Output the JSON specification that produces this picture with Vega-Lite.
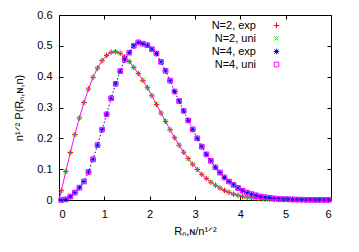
{
  "$schema": "https://vega.github.io/schema/vega-lite/v6.json",
  "width": 272,
  "height": 185,
  "autosize": "none",
  "padding": {"left": 59, "top": 15, "right": 28, "bottom": 52},
  "config": {
    "font": "Liberation Sans",
    "view": {"stroke": "#000000", "strokeWidth": 1},
    "axis": {
      "grid": false,
      "domain": false,
      "tickColor": "#000000",
      "tickSize": -4,
      "labelFontSize": 11,
      "labelColor": "#000000",
      "titleFontSize": 11,
      "titleFontWeight": "normal",
      "titleColor": "#000000"
    }
  },
  "datasets": {
    "sim": [
      {"x": 0.05, "e2": 0.03, "u2": 0.03, "e4": 0.0, "u4": 0.0},
      {"x": 0.15, "e2": 0.092, "u2": 0.092, "e4": 0.002, "u4": 0.002},
      {"x": 0.25, "e2": 0.154, "u2": 0.154, "e4": 0.011, "u4": 0.011},
      {"x": 0.35, "e2": 0.212, "u2": 0.212, "e4": 0.024, "u4": 0.024},
      {"x": 0.45, "e2": 0.266, "u2": 0.266, "e4": 0.04, "u4": 0.04},
      {"x": 0.55, "e2": 0.316, "u2": 0.316, "e4": 0.06, "u4": 0.06},
      {"x": 0.65, "e2": 0.36, "u2": 0.36, "e4": 0.091, "u4": 0.091},
      {"x": 0.75, "e2": 0.398, "u2": 0.398, "e4": 0.132, "u4": 0.132},
      {"x": 0.85, "e2": 0.428, "u2": 0.428, "e4": 0.178, "u4": 0.178},
      {"x": 0.95, "e2": 0.452, "u2": 0.452, "e4": 0.228, "u4": 0.228},
      {"x": 1.05, "e2": 0.469, "u2": 0.469, "e4": 0.278, "u4": 0.278},
      {"x": 1.15, "e2": 0.479, "u2": 0.479, "e4": 0.33, "u4": 0.33},
      {"x": 1.25, "e2": 0.481, "u2": 0.481, "e4": 0.377, "u4": 0.377},
      {"x": 1.35, "e2": 0.476, "u2": 0.476, "e4": 0.418, "u4": 0.418},
      {"x": 1.45, "e2": 0.465, "u2": 0.465, "e4": 0.455, "u4": 0.455},
      {"x": 1.55, "e2": 0.449, "u2": 0.449, "e4": 0.478, "u4": 0.478},
      {"x": 1.65, "e2": 0.43, "u2": 0.43, "e4": 0.5, "u4": 0.5},
      {"x": 1.75, "e2": 0.41, "u2": 0.41, "e4": 0.511, "u4": 0.511},
      {"x": 1.85, "e2": 0.388, "u2": 0.388, "e4": 0.507, "u4": 0.507},
      {"x": 1.95, "e2": 0.364, "u2": 0.364, "e4": 0.502, "u4": 0.502},
      {"x": 2.05, "e2": 0.338, "u2": 0.338, "e4": 0.489, "u4": 0.489},
      {"x": 2.15, "e2": 0.31, "u2": 0.31, "e4": 0.475, "u4": 0.475},
      {"x": 2.25, "e2": 0.282, "u2": 0.282, "e4": 0.448, "u4": 0.448},
      {"x": 2.35, "e2": 0.255, "u2": 0.255, "e4": 0.419, "u4": 0.419},
      {"x": 2.45, "e2": 0.228, "u2": 0.228, "e4": 0.387, "u4": 0.387},
      {"x": 2.55, "e2": 0.202, "u2": 0.202, "e4": 0.352, "u4": 0.352},
      {"x": 2.65, "e2": 0.178, "u2": 0.178, "e4": 0.321, "u4": 0.321},
      {"x": 2.75, "e2": 0.155, "u2": 0.155, "e4": 0.289, "u4": 0.289},
      {"x": 2.85, "e2": 0.134, "u2": 0.134, "e4": 0.258, "u4": 0.258},
      {"x": 2.95, "e2": 0.116, "u2": 0.116, "e4": 0.229, "u4": 0.229},
      {"x": 3.05, "e2": 0.099, "u2": 0.099, "e4": 0.2, "u4": 0.2},
      {"x": 3.15, "e2": 0.083, "u2": 0.083, "e4": 0.173, "u4": 0.173},
      {"x": 3.25, "e2": 0.07, "u2": 0.07, "e4": 0.148, "u4": 0.148},
      {"x": 3.35, "e2": 0.058, "u2": 0.058, "e4": 0.127, "u4": 0.127},
      {"x": 3.45, "e2": 0.048, "u2": 0.048, "e4": 0.106, "u4": 0.106},
      {"x": 3.55, "e2": 0.039, "u2": 0.039, "e4": 0.089, "u4": 0.089},
      {"x": 3.65, "e2": 0.031, "u2": 0.031, "e4": 0.073, "u4": 0.073},
      {"x": 3.75, "e2": 0.025, "u2": 0.025, "e4": 0.06, "u4": 0.06},
      {"x": 3.85, "e2": 0.019, "u2": 0.019, "e4": 0.049, "u4": 0.049},
      {"x": 3.95, "e2": 0.015, "u2": 0.015, "e4": 0.039, "u4": 0.039},
      {"x": 4.05, "e2": 0.011, "u2": 0.011, "e4": 0.03, "u4": 0.03},
      {"x": 4.15, "e2": 0.009, "u2": 0.009, "e4": 0.024, "u4": 0.024},
      {"x": 4.25, "e2": 0.007, "u2": 0.007, "e4": 0.019, "u4": 0.019},
      {"x": 4.35, "e2": 0.005, "u2": 0.005, "e4": 0.015, "u4": 0.015},
      {"x": 4.45, "e2": 0.004, "u2": 0.004, "e4": 0.011, "u4": 0.011},
      {"x": 4.55, "e2": 0.003, "u2": 0.003, "e4": 0.009, "u4": 0.009},
      {"x": 4.65, "e2": 0.002, "u2": 0.002, "e4": 0.007, "u4": 0.007},
      {"x": 4.75, "e2": 0.0015, "u2": 0.0015, "e4": 0.005, "u4": 0.005},
      {"x": 4.85, "e2": 0.001, "u2": 0.001, "e4": 0.004, "u4": 0.004},
      {"x": 4.95, "e2": 0.0008, "u2": 0.0008, "e4": 0.003, "u4": 0.003},
      {"x": 5.05, "e2": 0.0006, "u2": 0.0006, "e4": 0.0025, "u4": 0.0025},
      {"x": 5.15, "e2": 0.0005, "u2": 0.0005, "e4": 0.002, "u4": 0.002},
      {"x": 5.25, "e2": 0.0004, "u2": 0.0004, "e4": 0.0015, "u4": 0.0015},
      {"x": 5.35, "e2": 0.0003, "u2": 0.0003, "e4": 0.001, "u4": 0.001},
      {"x": 5.45, "e2": 0.0002, "u2": 0.0002, "e4": 0.0008, "u4": 0.0008},
      {"x": 5.55, "e2": 0.0002, "u2": 0.0002, "e4": 0.0006, "u4": 0.0006},
      {"x": 5.65, "e2": 0.0001, "u2": 0.0001, "e4": 0.0005, "u4": 0.0005},
      {"x": 5.75, "e2": 0.0001, "u2": 0.0001, "e4": 0.0004, "u4": 0.0004},
      {"x": 5.85, "e2": 0.0001, "u2": 0.0001, "e4": 0.0003, "u4": 0.0003},
      {"x": 5.95, "e2": 0.0, "u2": 0.0, "e4": 0.0002, "u4": 0.0002}
    ],
    "theory": [
      {"x": 0.0, "n2": 0.0, "n4": 0.0},
      {"x": 0.05, "n2": 0.03, "n4": 0.0},
      {"x": 0.15, "n2": 0.092, "n4": 0.002},
      {"x": 0.25, "n2": 0.154, "n4": 0.011},
      {"x": 0.35, "n2": 0.212, "n4": 0.024},
      {"x": 0.45, "n2": 0.266, "n4": 0.04},
      {"x": 0.55, "n2": 0.316, "n4": 0.06},
      {"x": 0.65, "n2": 0.36, "n4": 0.091},
      {"x": 0.75, "n2": 0.398, "n4": 0.132},
      {"x": 0.85, "n2": 0.428, "n4": 0.178},
      {"x": 0.95, "n2": 0.452, "n4": 0.228},
      {"x": 1.05, "n2": 0.469, "n4": 0.278},
      {"x": 1.15, "n2": 0.479, "n4": 0.33},
      {"x": 1.25, "n2": 0.481, "n4": 0.377},
      {"x": 1.35, "n2": 0.476, "n4": 0.418},
      {"x": 1.45, "n2": 0.465, "n4": 0.455},
      {"x": 1.55, "n2": 0.449, "n4": 0.478},
      {"x": 1.65, "n2": 0.43, "n4": 0.5},
      {"x": 1.75, "n2": 0.41, "n4": 0.511},
      {"x": 1.85, "n2": 0.388, "n4": 0.507},
      {"x": 1.95, "n2": 0.364, "n4": 0.502},
      {"x": 2.05, "n2": 0.338, "n4": 0.489},
      {"x": 2.15, "n2": 0.31, "n4": 0.475},
      {"x": 2.25, "n2": 0.282, "n4": 0.448},
      {"x": 2.35, "n2": 0.255, "n4": 0.419},
      {"x": 2.45, "n2": 0.228, "n4": 0.387},
      {"x": 2.55, "n2": 0.202, "n4": 0.352},
      {"x": 2.65, "n2": 0.178, "n4": 0.321},
      {"x": 2.75, "n2": 0.155, "n4": 0.289},
      {"x": 2.85, "n2": 0.134, "n4": 0.258},
      {"x": 2.95, "n2": 0.116, "n4": 0.229},
      {"x": 3.05, "n2": 0.099, "n4": 0.2},
      {"x": 3.15, "n2": 0.083, "n4": 0.173},
      {"x": 3.25, "n2": 0.07, "n4": 0.148},
      {"x": 3.35, "n2": 0.058, "n4": 0.127},
      {"x": 3.45, "n2": 0.048, "n4": 0.106},
      {"x": 3.55, "n2": 0.039, "n4": 0.089},
      {"x": 3.65, "n2": 0.031, "n4": 0.073},
      {"x": 3.75, "n2": 0.025, "n4": 0.06},
      {"x": 3.85, "n2": 0.019, "n4": 0.049},
      {"x": 3.95, "n2": 0.015, "n4": 0.039},
      {"x": 4.05, "n2": 0.011, "n4": 0.03},
      {"x": 4.15, "n2": 0.009, "n4": 0.024},
      {"x": 4.25, "n2": 0.007, "n4": 0.019},
      {"x": 4.35, "n2": 0.005, "n4": 0.015},
      {"x": 4.45, "n2": 0.004, "n4": 0.011},
      {"x": 4.55, "n2": 0.003, "n4": 0.009},
      {"x": 4.65, "n2": 0.002, "n4": 0.007},
      {"x": 4.75, "n2": 0.0015, "n4": 0.005},
      {"x": 4.85, "n2": 0.001, "n4": 0.004},
      {"x": 4.95, "n2": 0.0008, "n4": 0.003},
      {"x": 5.05, "n2": 0.0006, "n4": 0.0025},
      {"x": 5.15, "n2": 0.0005, "n4": 0.002},
      {"x": 5.25, "n2": 0.0004, "n4": 0.0015},
      {"x": 5.35, "n2": 0.0003, "n4": 0.001},
      {"x": 5.45, "n2": 0.0002, "n4": 0.0008},
      {"x": 5.55, "n2": 0.0002, "n4": 0.0006},
      {"x": 5.65, "n2": 0.0001, "n4": 0.0005},
      {"x": 5.75, "n2": 0.0001, "n4": 0.0004},
      {"x": 5.85, "n2": 0.0001, "n4": 0.0003},
      {"x": 5.95, "n2": 0.0, "n4": 0.0002}
    ]
  },
  "layer": [
    {
      "data": {"name": "sim"},
      "transform": [{"fold": ["e2", "u2", "e4", "u4"], "as": ["k", "v"]}],
      "mark": {"type": "point", "filled": false, "strokeWidth": 1, "size": 30, "opacity": 1},
      "encoding": {
        "x": {
          "field": "x", "type": "quantitative",
          "scale": {"domain": [0, 6], "nice": false, "zero": false},
          "axis": {"orient": "bottom", "values": [0, 1, 2, 3, 4, 5, 6], "labelPadding": 12, "title": "Rₙ,ɴ/n¹ᐟ²", "titlePadding": 6}
        },
        "y": {
          "field": "v", "type": "quantitative",
          "scale": {"domain": [0, 0.6], "nice": false},
          "axis": {"orient": "left", "values": [0, 0.1, 0.2, 0.3, 0.4, 0.5, 0.6], "format": "~g", "labelPadding": 11, "title": "n¹ᐟ² P(Rₙ,ɴ,n)", "titlePadding": 12}
        },
        "color": {
          "field": "k", "type": "nominal",
          "scale": {"domain": ["e2", "u2", "e4", "u4"], "range": ["#ff0000", "#00f000", "#0000ff", "#ff00ff"]},
          "legend": {
            "orient": "none", "legendX": 212, "legendY": 5, "title": null,
            "labelAlign": "right", "labelOffset": -26, "labelFontSize": 11, "labelColor": "#000000",
            "symbolSize": 30, "symbolStrokeWidth": 1, "rowPadding": 1,
            "labelExpr": "datum.label == 'e2' ? 'N=2, exp' : datum.label == 'u2' ? 'N=2, uni' : datum.label == 'e4' ? 'N=4, exp' : 'N=4, uni'"
          }
        },
        "shape": {
          "field": "k", "type": "nominal",
          "scale": {"domain": ["e2", "u2", "e4", "u4"], "range": ["M-1,0L1,0M0,-1L0,1", "M-0.75,-0.75L0.75,0.75M-0.75,0.75L0.75,-0.75", "M-1,0L1,0M0,-1L0,1M-0.75,-0.75L0.75,0.75M-0.75,0.75L0.75,-0.75", "M-0.85,-0.85L0.85,-0.85L0.85,0.85L-0.85,0.85Z"]}
        }
      }
    },
    {
      "data": {"name": "theory"},
      "mark": {"type": "line", "color": "#ff00ff", "strokeWidth": 1},
      "encoding": {
        "x": {"field": "x", "type": "quantitative", "axis": null},
        "y": {"field": "n2", "type": "quantitative", "axis": null}
      }
    },
    {
      "data": {"name": "theory"},
      "mark": {"type": "line", "color": "#0000ff", "strokeWidth": 1, "strokeDash": [1.5, 2]},
      "encoding": {
        "x": {"field": "x", "type": "quantitative", "axis": {"orient": "top", "values": [0, 1, 2, 3, 4, 5, 6], "labels": false, "title": null}},
        "y": {"field": "n4", "type": "quantitative", "axis": {"orient": "right", "values": [0, 0.1, 0.2, 0.3, 0.4, 0.5, 0.6], "labels": false, "title": null}}
      }
    }
  ]
}
